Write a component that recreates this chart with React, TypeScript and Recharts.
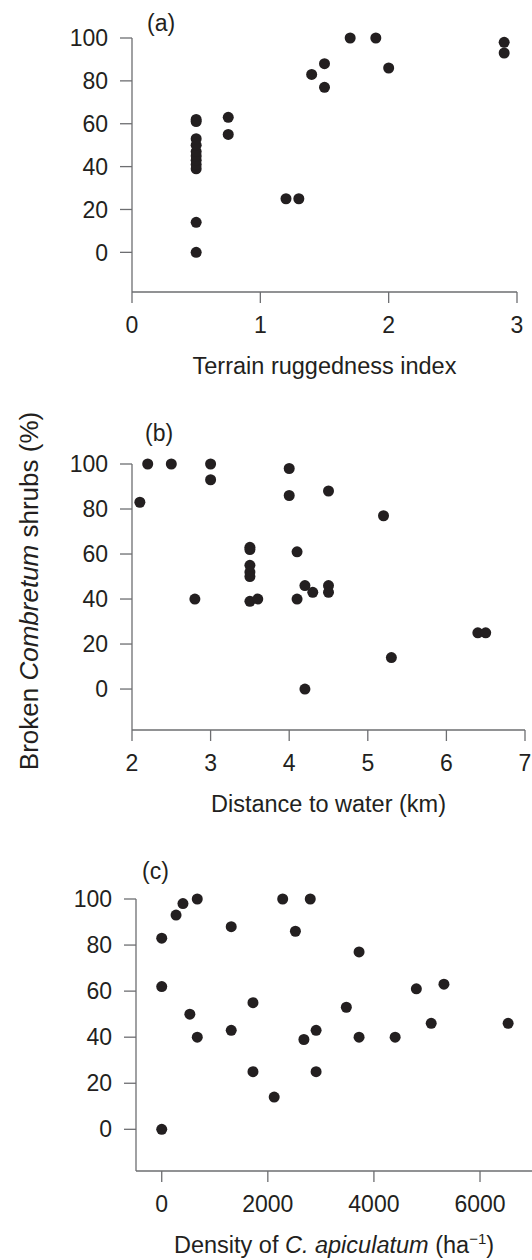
import React from 'react';
import { ScatterChart, Scatter, XAxis, YAxis } from 'recharts';

const INK = '#231f20';
const AXIS = '#6d6e71';
const FONT = '"Liberation Sans", Arial, Helvetica, sans-serif';

const yTicks = [0, 20, 40, 60, 80, 100];

// (a) terrain ruggedness
const ruggedX = [0.5, 0.5, 0.5, 0.5, 0.5, 0.5, 0.5, 0.5, 0.5, 0.5, 0.5, 0.75, 0.75, 1.2, 1.3, 1.4, 1.5, 1.5, 1.7, 1.9, 2.0, 2.9, 2.9];
const ruggedY = [0, 14, 39, 41, 43, 45, 47, 50, 53, 61, 62, 63, 55, 25, 25, 83, 88, 77, 100, 100, 86, 98, 93];
const ruggedTicks = [0, 1, 2, 3];

// (b) distance to water
const waterX = [2.1, 2.2, 2.5, 2.8, 3.0, 3.0, 3.5, 3.5, 3.5, 3.5, 3.5, 3.5, 3.6, 4.0, 4.0, 4.1, 4.1, 4.2, 4.2, 4.3, 4.5, 4.5, 4.5, 5.2, 5.3, 6.4, 6.5];
const waterY = [83, 100, 100, 40, 100, 93, 63, 62, 55, 52, 50, 39, 40, 98, 86, 61, 40, 46, 0, 43, 88, 46, 43, 77, 14, 25, 25];
const waterTicks = [2, 3, 4, 5, 6, 7];

// (c) density of C. apiculatum
const densityX = [0, 0, 0, 270, 400, 670, 530, 670, 1310, 1310, 1720, 1720, 2120, 2280, 2520, 2680, 2800, 2910, 2910, 3480, 3720, 3720, 4400, 4800, 5080, 5320, 6530];
const densityY = [83, 62, 0, 93, 98, 100, 50, 40, 88, 43, 55, 25, 14, 100, 86, 39, 100, 43, 25, 53, 77, 40, 40, 61, 46, 63, 46];
const densityTicks = [0, 2000, 4000, 6000];

const zip = (xs: number[], ys: number[]) => xs.map((x, i) => ({ x, y: ys[i] }));

function Dot(props: any) {
  const { cx, cy } = props;
  if (cx == null || cy == null) return null;
  return <circle cx={cx} cy={cy} r={5.5} fill={INK} />;
}

const tickStyle = { fill: INK, fontSize: 23, fontFamily: FONT };

function axisTitle(content: React.ReactNode) {
  return (props: any) => {
    const { x, y, width } = props.viewBox;
    return (
      <text x={x + width / 2} y={y + 82} textAnchor="middle" fill={INK} fontSize={23.5} fontFamily={FONT}>
        {content}
      </text>
    );
  };
}

interface PanelProps {
  top: number;
  height: number;
  marginTop: number;
  marginRight: number;
  yWidth: number;
  xHeight: number;
  xDomain: [number, number];
  xTicks: number[];
  yDomain: [number, number];
  data: { x: number; y: number }[];
  title: React.ReactNode;
}

function Panel(p: PanelProps) {
  return (
    <div style={{ position: 'absolute', left: 0, top: p.top }}>
      <ScatterChart width={532} height={p.height} margin={{ top: p.marginTop, right: p.marginRight, bottom: 0, left: 0 }}>
        <XAxis
          type="number"
          dataKey="x"
          domain={p.xDomain}
          ticks={p.xTicks}
          interval={0}
          height={p.xHeight}
          stroke={AXIS}
          strokeWidth={1.3}
          tickSize={11}
          tickMargin={14}
          tick={tickStyle}
          label={axisTitle(p.title)}
        />
        <YAxis
          type="number"
          dataKey="y"
          domain={p.yDomain}
          ticks={yTicks}
          interval={0}
          width={p.yWidth}
          stroke={AXIS}
          strokeWidth={1.3}
          tickSize={12}
          tickMargin={12}
          tick={tickStyle}
        />
        <Scatter data={p.data} shape={Dot} isAnimationActive={false} />
      </ScatterChart>
    </div>
  );
}

const letterStyle: React.CSSProperties = {
  position: 'absolute',
  fontSize: 23,
  lineHeight: '23px',
  color: INK,
};

export default function App() {
  return (
    <div style={{ position: 'relative', width: 532, height: 1260, overflow: 'hidden', background: '#fff', fontFamily: FONT }}>
      <style>{'body{margin:0}'}</style>

      <Panel
        top={0}
        height={392}
        marginTop={38}
        marginRight={15}
        yWidth={132}
        xHeight={100}
        xDomain={[0, 3]}
        xTicks={ruggedTicks}
        yDomain={[-18.5, 100]}
        data={zip(ruggedX, ruggedY)}
        title="Terrain ruggedness index"
      />
      <Panel
        top={424}
        height={406}
        marginTop={40}
        marginRight={7}
        yWidth={132}
        xHeight={100}
        xDomain={[2, 7]}
        xTicks={waterTicks}
        yDomain={[-18.2, 100]}
        data={zip(waterX, waterY)}
        title="Distance to water (km)"
      />
      <Panel
        top={859}
        height={400}
        marginTop={40}
        marginRight={0}
        yWidth={136}
        xHeight={88}
        xDomain={[-485, 6980]}
        xTicks={densityTicks}
        yDomain={[-18.1, 100]}
        data={zip(densityX, densityY)}
        title={
          <>
            <tspan>Density of </tspan>
            <tspan fontStyle="italic">C. apiculatum</tspan>
            <tspan> (ha</tspan>
            <tspan dy={-9} fontSize={15}>−1</tspan>
            <tspan dy={9}>)</tspan>
          </>
        }
      />

      <div style={{ ...letterStyle, left: 147, top: 12 }}>(a)</div>
      <div style={{ ...letterStyle, left: 145, top: 422 }}>(b)</div>
      <div style={{ ...letterStyle, left: 142, top: 860 }}>(c)</div>

      <div
        style={{
          position: 'absolute',
          left: 29,
          top: 591,
          transform: 'translate(-50%, -50%) rotate(-90deg)',
          whiteSpace: 'nowrap',
          fontSize: 26,
          color: INK,
        }}
      >
        Broken <i>Combretum</i> shrubs (%)
      </div>
    </div>
  );
}
